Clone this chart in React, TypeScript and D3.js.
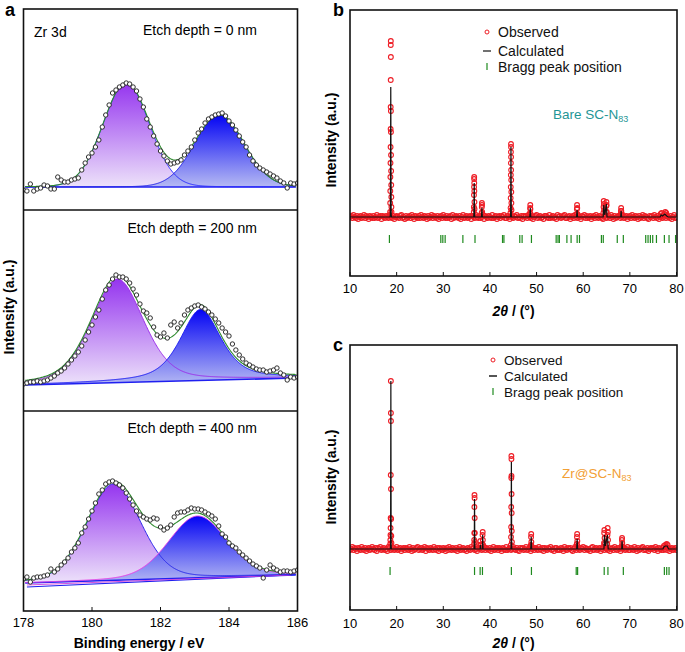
import React, { useEffect, useRef } from 'react';
import * as d3 from 'd3';

const FONT = '"Liberation Sans", Arial, Helvetica, sans-serif';

// ---------- panel a : Zr 3d XPS ----------
const xpsEnergy = [
  178.0, 178.1, 178.2, 178.3, 178.4, 178.5, 178.6, 178.7, 178.8, 178.9,
  179.0, 179.1, 179.2, 179.3, 179.4, 179.5, 179.6, 179.7, 179.8, 179.9,
  180.0, 180.1, 180.2, 180.3, 180.4, 180.5, 180.6, 180.7, 180.8, 180.9,
  181.0, 181.1, 181.2, 181.3, 181.4, 181.5, 181.6, 181.7, 181.8, 181.9,
  182.0, 182.1, 182.2, 182.3, 182.4, 182.5, 182.6, 182.7, 182.8, 182.9,
  183.0, 183.1, 183.2, 183.3, 183.4, 183.5, 183.6, 183.7, 183.8, 183.9,
  184.0, 184.1, 184.2, 184.3, 184.4, 184.5, 184.6, 184.7, 184.8, 184.9,
  185.0, 185.1, 185.2, 185.3, 185.4, 185.5, 185.6, 185.7, 185.8, 185.9,
  186.0,
];

// observed counts (a.u.) for the three etch depths
const xpsObs0 = [
  -3, -4, 3, -4, -2, -1, 2, 1, -2, -2,
  10, 7, 5, 5, 7, 8, 9, 17, 24, 30,
  34, 40, 47, 60, 72, 82, 94, 97, 100, 102,
  104, 103, 100, 96, 88, 80, 68, 60, 51, 43,
  36, 31, 26, 23, 24, 25, 27, 32, 36, 40,
  47, 54, 58, 64, 68, 70, 72, 73, 74, 71,
  66, 62, 57, 51, 45, 40, 32, 26, 22, 19,
  17, 15, 13, 11, 9, 6, 4, -1, 4, 3,
  4,
];
const xpsObs200 = [
  1, 2, 3, 3, 4, 3, 4, 5, 7, 9,
  12, 14, 17, 21, 25, 29, 33, 39, 45, 53,
  60, 68, 75, 86, 95, 100, 106, 110, 108, 108,
  106, 102, 96, 90, 81, 74, 72, 67, 58, 50,
  48, 52, 47, 60, 63, 57, 62, 70, 75, 77,
  79, 80, 78, 76, 73, 70, 66, 62, 57, 53,
  49, 41, 35, 30, 26, 22, 20, 18, 16, 15,
  15, 13, 14, 15, 17, 12, 10, 5, 8, 7,
  8,
];
const xpsObs400 = [
  6, 8, 3, 7, 8, 8, 9, 10, 16, 13,
  16, 20, 23, 27, 33, 37, 42, 52, 58, 66,
  74, 82, 91, 95, 101, 103, 104, 102, 100, 97,
  92, 86, 80, 74, 70, 68, 66, 65, 67, 66,
  58, 55, 57, 60, 68, 72, 73, 73, 75, 77,
  76, 76, 75, 73, 71, 69, 66, 59, 51, 48,
  42, 39, 37, 33, 30, 27, 24, 21, 19, 17,
  7, 15, 20, 17, 15, 13, 14, 14, 13, 14,
  15,
];

// fitted components (pseudo-Voigt): Zr 3d5/2 and Zr 3d3/2
const xpsFit0 = [
  { center: 181.0, height: 104, fwhm: 1.6, eta: 0.05 },
  { center: 183.72, height: 72, fwhm: 1.7, eta: 0.05 },
];
const xpsFit200 = [
  { center: 180.74, height: 103.6, fwhm: 1.8, eta: 0.35 },
  { center: 183.17, height: 71, fwhm: 1.4, eta: 0.6 },
];
const xpsFit400 = [
  { center: 180.63, height: 96.4, fwhm: 1.85, eta: 0.2 },
  { center: 183.08, height: 61.8, fwhm: 2.0, eta: 0.2 },
];
// backgrounds [energy, counts]
const xpsBg0 = [[178, 0], [186, 0]];
const xpsBg200 = [[178, 0], [186, 7]];
const xpsBg400 = [[178, 1.9], [186, 10.2]];
const xpsBg400b = [[178.1, -2], [185.8, 10]];

const xpsTicks = [178, 180, 182, 184, 186];

// ---------- panels b, c : XRD refinement ----------
const twoThetaTicks = [10, 20, 30, 40, 50, 60, 70, 80];

// observed background level every 0.25 deg from 10 to 80
const xrdBgNoiseB = [
  0, 1, -1, 2, 0, -1, 1, -2, 0, 1, -1, 0, 2, -1, 1, 0, -2, 1, 0, -1,
  1, -1, 0, 2, -1, 0, 1, -2, 1, 0, -1, 1, 0, -1, 2, 0, -1, 1, -2, 0,
  1, 0, -1, 1, 2, -1, 0, -2, 1, -1, 0, 1, -1, 2, 0, -2, 1, 0, -1, 1,
  -1, 2, 0, -1, 1, 0, -2, 1, -1, 0, 2, -1, 1, 0, -1, 1, -2, 0, 1, -1,
  2, 0, -1, 1, -1, 0, 1, -2, 2, -1, 0, 1, 0, -1, 1, -2, 0, 2, -1, 0,
  1, -1, 0, 1, -2, 1, 0, -1, 2, 0, -1, 1, -1, 0, 2, -2, 1, 0, -1, 1,
  0, -1, 2, -1, 0, 1, -2, 0, 1, -1, 1, 0, 2, -1, -1, 1, 0, -2, 1, 0,
  -1, 1, 0, 2, -1, 0, -1, 1, -2, 1, 0, 1, -1, 2, 0, -1, 1, -2, 0, 1,
  2, -1, 0, 1, -1, 0, -2, 1, 1, 0, -1, 2, -1, 0, 1, -1, 0, -2, 2, 0,
  1, -1, 0, 1, 2, -1, -1, 0, 1, -2, 0, 1, -1, 2, 0, -1, 1, 0, -2, 1,
  0, 2, -1, 1, -1, 0, 1, -2, 0, 1, -1, 2, 0, -1, 1, 0, -1, -2, 1, 2,
  -1, 0, 1, -1, 2, 0, -2, 1, -1, 0, 1, 1, -1, 0, 2, -1, 0, 1, -2, 0,
  1, -1, 2, 0, -1, 1, 0, -2, 1, -1, 0, 2, -1, 1, 0, -1, -2, 1, 0, 1,
  -1, 2, 0, -1, 1, -2, 0, 1, -1, 0, 2, -1, 1, 0, -1, 1, -2, 0, 2, -1,
  0,
];
const xrdBgNoiseC = [
  -1, 0, 2, -1, 1, 0, -2, 1, 0, -1, 2, 0, -1, 1, -2, 0, 1, -1, 0, 2,
  0, -1, 1, -2, 1, 0, 2, -1, 0, 1, -1, 0, -2, 2, 1, -1, 0, 1, -1, 0,
  2, -1, 0, 1, -2, 0, 1, -1, 1, 0, -1, 2, 0, -2, 1, -1, 0, 1, 2, -1,
  0, 1, -1, 0, 2, -2, 1, 0, -1, 1, 0, -1, 2, 0, -1, 1, -2, 1, 0, -1,
  1, 0, -2, 1, -1, 2, 0, -1, 1, 0, -1, 1, -2, 0, 2, -1, 0, 1, -1, 0,
  -2, 1, 0, -1, 2, 0, 1, -1, 0, -2, 1, 0, 1, -1, 0, 2, -1, 1, 0, -1,
  1, -2, 0, 2, -1, 0, 1, -1, 1, 0, -2, 1, 0, -1, 2, -1, 0, 1, -1, 0,
  2, 0, -1, 1, -1, -2, 1, 0, 1, -1, 0, 2, -1, 0, 1, -2, 0, 1, -1, 1,
  0, -1, 2, 0, -1, 1, -2, 1, 0, -1, 1, 0, 2, -1, 0, -2, 1, 1, -1, 0,
  -1, 1, 0, -2, 2, 0, -1, 1, 0, 1, -1, -2, 0, 2, -1, 1, 0, -1, 1, 0,
  2, -1, 1, 0, -1, 0, -2, 1, 2, -1, 0, 1, -1, 0, 1, -2, 0, 2, -1, 1,
  0, -1, 1, -2, 0, 1, -1, 2, 0, -1, 1, 0, -2, 1, 0, 1, -1, 0, 2, -1,
  -1, 1, 0, -1, 2, 0, -2, 1, -1, 0, 1, 2, -1, 0, -1, 1, -2, 0, 1, 0,
  1, -1, 2, 0, -2, 1, 0, -1, 1, -1, 0, 2, -1, 1, -2, 0, 1, -1, 0, 1,
  -1,
];

// observed points on the reflections [2theta, counts]
const xrdPeakObsB = [
  [18.6, 5], [18.62, 14], [18.64, 26], [18.66, 40], [18.68, 54], [18.7, 70], [18.71, 88], [18.72, 110],
  [18.73, 137], [18.74, 172], [18.75, 176], [18.76, 160], [18.77, 106], [18.78, 85], [18.8, 62],
  [18.82, 46], [18.84, 32], [18.86, 20], [18.88, 10], [18.9, 5],
  [36.54, 5], [36.56, 10], [36.58, 22], [36.6, 30], [36.62, 38], [36.63, 40], [36.64, 34], [36.66, 26], [36.68, 15], [36.7, 8],
  [38.22, 4], [38.26, 10], [38.28, 14], [38.3, 12], [38.34, 5],
  [44.4, 4], [44.42, 9], [44.44, 19], [44.46, 30], [44.48, 42], [44.49, 54], [44.5, 65], [44.51, 73],
  [44.52, 70], [44.53, 60], [44.54, 47], [44.56, 37], [44.58, 25], [44.6, 14], [44.62, 7],
  [48.58, 4], [48.62, 9], [48.65, 12], [48.68, 8], [48.72, 3],
  [58.6, 3], [58.64, 8], [58.68, 12], [58.72, 9], [58.76, 3],
  [64.32, 4], [64.36, 10], [64.4, 16], [64.44, 13], [64.48, 7],
  [64.9, 5], [64.94, 11], [64.98, 15], [65.02, 12], [65.06, 5],
  [68.06, 3], [68.1, 6], [68.13, 9], [68.17, 6], [68.2, 2],
  [76.6, 3], [76.8, 4], [77.4, 3], [77.6, 5], [77.8, 4],
];
const xrdPeakObsC = [
  [18.62, 5], [18.65, 9], [18.68, 14], [18.7, 21], [18.72, 31], [18.74, 74], [18.76, 168], [18.77, 136],
  [18.78, 128], [18.79, 60], [18.82, 30], [18.85, 13], [18.88, 6],
  [36.6, 5], [36.63, 9], [36.65, 16], [36.67, 42], [36.69, 54], [36.71, 51], [36.73, 31], [36.76, 16], [36.79, 7],
  [37.9, 4], [37.95, 8], [38.0, 4],
  [38.38, 5], [38.42, 14], [38.45, 17], [38.48, 9], [38.52, 4],
  [44.48, 4], [44.52, 12], [44.54, 22], [44.56, 42], [44.58, 71], [44.6, 93], [44.61, 90], [44.62, 73],
  [44.64, 55], [44.66, 36], [44.68, 18], [44.71, 7],
  [48.78, 4], [48.82, 12], [48.85, 15], [48.88, 7], [48.92, 3],
  [58.62, 5], [58.66, 12], [58.7, 15], [58.74, 8], [58.78, 3],
  [64.46, 6], [64.5, 16], [64.54, 19], [64.58, 11], [64.62, 5],
  [65.15, 5], [65.2, 14], [65.24, 21], [65.28, 17], [65.32, 9],
  [68.26, 3], [68.3, 9], [68.33, 11], [68.37, 6], [68.4, 2],
  [77.3, 3], [77.6, 4], [77.9, 5], [78.1, 4],
];

// calculated profiles [2theta, counts]
const xrdCalcB = [
  [10, 0], [18.6, 0], [18.66, 3], [18.74, 130], [18.82, 3], [18.9, 0],
  [36.5, 0], [36.56, 2], [36.63, 34], [36.7, 2], [36.76, 0],
  [38.15, 0], [38.2, 1], [38.28, 9], [38.36, 1], [38.4, 0],
  [44.38, 0], [44.44, 2], [44.51, 70], [44.58, 2], [44.64, 0],
  [48.55, 0], [48.65, 9], [48.75, 0],
  [58.58, 0], [58.68, 7], [58.78, 0],
  [64.28, 0], [64.4, 12], [64.62, 2], [64.97, 13], [65.1, 0],
  [68.03, 0], [68.13, 6], [68.23, 0],
  [76.5, 0], [76.7, 2], [77.0, 1], [77.5, 3], [77.9, 1], [78.2, 0], [80, 0],
];
const xrdCalcC = [
  [10, 0], [18.65, 0], [18.7, 3], [18.76, 168], [18.82, 3], [18.88, 0],
  [36.6, 0], [36.64, 2], [36.7, 50], [36.76, 2], [36.8, 0],
  [37.9, 0], [37.95, 4], [38.0, 0], [38.38, 0], [38.45, 14], [38.52, 0],
  [44.5, 0], [44.54, 2], [44.6, 87], [44.66, 2], [44.7, 0],
  [48.75, 0], [48.85, 12], [48.95, 0],
  [58.6, 0], [58.7, 10], [58.8, 0],
  [64.45, 0], [64.55, 14], [64.75, 3], [65.2, 14], [65.35, 0],
  [68.25, 0], [68.33, 8], [68.43, 0],
  [77.1, 0], [77.3, 2], [77.6, 3], [78.0, 3], [78.3, 0], [80, 0],
];

// Bragg peak positions (2theta)
const xrdBraggB = [
  18.45, 29.47, 29.9, 30.4, 34.2, 36.8, 42.7, 43.0, 46.4, 46.9, 48.9, 54.2, 54.6, 54.9, 56.5,
  57.4, 58.7, 59.2, 63.9, 64.3, 67.3, 68.6, 73.4, 73.9, 74.4, 74.9, 75.7, 77.4, 78.4, 79.8,
];
const xrdBraggC = [18.59, 36.7, 37.9, 38.4, 44.6, 48.9, 58.5, 58.8, 64.5, 65.3, 68.6, 77.4, 77.9, 78.4];

function pseudoVoigt(e, p) {
  const r = (e - p.center) / p.fwhm;
  const g = Math.exp(-4 * Math.LN2 * r * r);
  const l = 1 / (1 + 4 * r * r);
  return p.height * ((1 - p.eta) * g + p.eta * l);
}

function drawXps(svg) {
  const left = 23.5, right = 297.5;
  const x = d3.scaleLinear().domain([178, 186]).range([left, right]);
  const defs = svg.append('defs');

  const g1 = defs.append('linearGradient').attr('id', 'gradP1')
    .attr('x1', 0).attr('y1', 0).attr('x2', 0).attr('y2', 1);
  g1.append('stop').attr('offset', '0%').attr('stop-color', '#9535ef');
  g1.append('stop').attr('offset', '100%').attr('stop-color', '#ede2fa');
  const g2 = defs.append('linearGradient').attr('id', 'gradP2')
    .attr('x1', 0).attr('y1', 0).attr('x2', 0).attr('y2', 1);
  g2.append('stop').attr('offset', '0%').attr('stop-color', '#0404f4');
  g2.append('stop').attr('offset', '100%').attr('stop-color', '#b6baf3');

  const panels = [
    { title: 'Etch depth = 0 nm', top: 9, bottom: 210, zero: 187, titleY: 35, obs: xpsObs0, fit: xpsFit0, bg: xpsBg0, bg2: null, strokes: ['#2b2bff', '#2323e6'] },
    { title: 'Etch depth = 200 nm', top: 210, bottom: 411, zero: 385, titleY: 233, obs: xpsObs200, fit: xpsFit200, bg: xpsBg200, bg2: null, strokes: ['#9b30e8', '#1d1df0'] },
    { title: 'Etch depth = 400 nm', top: 411, bottom: 611, zero: 585, titleY: 433, obs: xpsObs400, fit: xpsFit400, bg: xpsBg400, bg2: xpsBg400b, strokes: ['#2a2ae8', '#e63ce6'] },
  ];
  const grid = d3.range(178.05, 185.96, 0.02);

  panels.forEach((pnl, i) => {
    const y = d3.scaleLinear().domain([0, 100]).range([pnl.zero, pnl.zero - 100]);
    const bg = d3.scaleLinear().domain(pnl.bg.map(d => d[0])).range(pnl.bg.map(d => d[1]));

    defs.append('clipPath').attr('id', 'clipA' + i)
      .append('rect').attr('x', left).attr('y', pnl.top).attr('width', right - left).attr('height', pnl.bottom - pnl.top);
    const g = svg.append('g').attr('clip-path', `url(#clipA${i})`);

    // filled components
    pnl.fit.forEach((p, k) => {
      const area = d3.area()
        .x(e => x(e))
        .y0(e => y(bg(e)))
        .y1(e => y(bg(e) + pseudoVoigt(e, p)));
      g.append('path').datum(grid).attr('d', area).attr('fill', `url(#gradP${k + 1})`);
    });

    // background lines
    const bgLine = d3.line().x(d => x(d[0])).y(d => y(d[1]));
    g.append('path').datum([[178.05, bg(178.05)], [185.95, bg(185.95)]])
      .attr('d', bgLine).attr('fill', 'none').attr('stroke', '#2020f0').attr('stroke-width', 1.6);
    if (pnl.bg2) {
      g.append('path').datum(pnl.bg2)
        .attr('d', bgLine).attr('fill', 'none').attr('stroke', '#2020f0').attr('stroke-width', 1.2);
      g.append('path').datum([[178.1, bg(178.1) - 2], [185.8, bg(185.8)]])
        .attr('d', bgLine).attr('fill', 'none').attr('stroke', '#d040d8').attr('stroke-width', 0.9);
    }

    // component outlines
    pnl.fit.forEach((p, k) => {
      const line = d3.line().x(e => x(e)).y(e => y(bg(e) + pseudoVoigt(e, p)));
      g.append('path').datum(grid).attr('d', line)
        .attr('fill', 'none').attr('stroke', pnl.strokes[k]).attr('stroke-width', 1);
    });

    // envelope
    const env = d3.line().x(e => x(e))
      .y(e => y(bg(e) + d3.sum(pnl.fit, p => pseudoVoigt(e, p))));
    g.append('path').datum(grid).attr('d', env)
      .attr('fill', 'none').attr('stroke', '#2e8b2e').attr('stroke-width', 1.1);

    // observed points
    g.selectAll('circle.obs').data(pnl.obs).enter().append('circle')
      .attr('class', 'obs')
      .attr('cx', (d, j) => x(xpsEnergy[j]))
      .attr('cy', d => y(d))
      .attr('r', 2.2)
      .attr('fill', 'white')
      .attr('stroke', '#1a1a1a')
      .attr('stroke-width', 0.9);

    svg.append('text')
      .attr('x', 257).attr('y', pnl.titleY)
      .attr('text-anchor', 'end')
      .style('font-size', '14px')
      .text(pnl.title);
  });

  svg.append('text').attr('x', 34).attr('y', 37).style('font-size', '14px').text('Zr 3d');

  // frame and separators
  svg.append('rect').attr('x', left).attr('y', 9).attr('width', right - left).attr('height', 602)
    .attr('fill', 'none').attr('stroke', '#111').attr('stroke-width', 1.6);
  [210, 411].forEach(v => {
    svg.append('line').attr('x1', left).attr('x2', right).attr('y1', v).attr('y2', v)
      .attr('stroke', '#111').attr('stroke-width', 1.6);
  });

  // x axis
  xpsTicks.forEach(t => {
    svg.append('line').attr('x1', x(t)).attr('x2', x(t)).attr('y1', 611).attr('y2', 607)
      .attr('stroke', '#111').attr('stroke-width', 1);
    svg.append('text').attr('x', x(t)).attr('y', 627).attr('text-anchor', 'middle')
      .style('font-size', '13px').text(t);
  });
  svg.append('text').attr('x', 139).attr('y', 648).attr('text-anchor', 'middle')
    .style('font-size', '14px').style('font-weight', 'bold').text('Binding energy / eV');
  svg.append('text').attr('transform', 'translate(14,307) rotate(-90)').attr('text-anchor', 'middle')
    .style('font-size', '14px').style('font-weight', 'bold').text('Intensity (a.u.)');
  svg.append('text').attr('x', 5).attr('y', 16).style('font-size', '18px').style('font-weight', 'bold').text('a');
}

function drawXrd(svg) {
  const left = 350, right = 677;
  const x = d3.scaleLinear().domain([10, 80]).range([left, 676.5]);

  const panels = [
    {
      letter: 'b', top: 10, bottom: 276, zero: 217, bgNoise: xrdBgNoiseB, peaks: xrdPeakObsB, calc: xrdCalcB,
      bragg: xrdBraggB, sample: 'Bare SC-N', sampleColor: '#1f9696', sampleX: 553, sampleY: 119,
      legX: 487, legRows: [37, 56, 72], legFont: 14, calcLegColor: '#111', calcLegW: 1.2, tickY: 293, titleY: 316, yLabelY: 140,
    },
    {
      letter: 'c', top: 345, bottom: 610, zero: 549, bgNoise: xrdBgNoiseC, peaks: xrdPeakObsC, calc: xrdCalcC,
      bragg: xrdBraggC, sample: 'Zr@SC-N', sampleColor: '#f2a035', sampleX: 562, sampleY: 478,
      legX: 493, legRows: [365, 381, 397], legFont: 13.5, calcLegColor: '#555', calcLegW: 2, tickY: 628, titleY: 648, yLabelY: 477,
    },
  ];

  panels.forEach((pnl, i) => {
    const y = d3.scaleLinear().domain([0, 100]).range([pnl.zero, pnl.zero - 100]);
    const defs = svg.append('defs');
    defs.append('clipPath').attr('id', 'clipX' + i)
      .append('rect').attr('x', left).attr('y', pnl.top).attr('width', right - left).attr('height', pnl.bottom - pnl.top);
    const g = svg.append('g').attr('clip-path', `url(#clipX${i})`);

    const red = '#ee1c24';
    g.selectAll('circle.bg').data(pnl.bgNoise).enter().append('circle')
      .attr('class', 'bg')
      .attr('cx', (d, j) => x(10 + 0.25 * j))
      .attr('cy', d => y(d))
      .attr('r', 2.4).attr('fill', 'none').attr('stroke', red).attr('stroke-width', 1.1);
    g.selectAll('circle.pk').data(pnl.peaks).enter().append('circle')
      .attr('class', 'pk')
      .attr('cx', d => x(d[0]))
      .attr('cy', d => y(d[1]))
      .attr('r', 2.4).attr('fill', 'none').attr('stroke', red).attr('stroke-width', 1.1);

    g.append('path').datum(pnl.calc)
      .attr('d', d3.line().x(d => x(d[0])).y(d => y(d[1])))
      .attr('fill', 'none').attr('stroke', '#111').attr('stroke-width', 1.2);

    g.selectAll('line.bragg').data(pnl.bragg).enter().append('line')
      .attr('class', 'bragg')
      .attr('x1', d => x(d)).attr('x2', d => x(d))
      .attr('y1', y(-18)).attr('y2', y(-26))
      .attr('stroke', '#1f8a1f').attr('stroke-width', 1.2);

    // frame
    svg.append('rect').attr('x', left).attr('y', pnl.top).attr('width', right - left).attr('height', pnl.bottom - pnl.top)
      .attr('fill', 'none').attr('stroke', '#111').attr('stroke-width', 1.6);

    twoThetaTicks.forEach(t => {
      svg.append('line').attr('x1', x(t)).attr('x2', x(t)).attr('y1', pnl.bottom).attr('y2', pnl.bottom - 4)
        .attr('stroke', '#111').attr('stroke-width', 1);
      svg.append('text').attr('x', x(t)).attr('y', pnl.tickY).attr('text-anchor', 'middle')
        .style('font-size', '13px').text(t);
    });

    const title = svg.append('text').attr('x', (left + right) / 2).attr('y', pnl.titleY)
      .attr('text-anchor', 'middle').style('font-size', '14px').style('font-weight', 'bold');
    title.append('tspan').style('font-style', 'italic').text('2θ');
    title.append('tspan').text(' / (°)');

    svg.append('text').attr('transform', `translate(336,${pnl.yLabelY}) rotate(-90)`).attr('text-anchor', 'middle')
      .style('font-size', '14px').style('font-weight', 'bold').text('Intensity (a.u.)');
    svg.append('text').attr('x', 333).attr('y', pnl.top + 6).style('font-size', '18px')
      .style('font-weight', 'bold').text(pnl.letter);

    // legend
    const lx = pnl.legX;
    const [r1, r2, r3] = pnl.legRows;
    svg.append('circle').attr('cx', lx).attr('cy', r1 - 5).attr('r', 2)
      .attr('fill', 'none').attr('stroke', red).attr('stroke-width', 1);
    svg.append('line').attr('x1', lx - 4).attr('x2', lx + 4).attr('y1', r2 - 5).attr('y2', r2 - 5)
      .attr('stroke', pnl.calcLegColor).attr('stroke-width', pnl.calcLegW);
    svg.append('line').attr('x1', lx).attr('x2', lx).attr('y1', r3 - 9).attr('y2', r3 - 2)
      .attr('stroke', '#1f8a1f').attr('stroke-width', 1.2);
    [['Observed', r1], ['Calculated', r2], ['Bragg peak position', r3]].forEach(([txt, ry]) => {
      svg.append('text').attr('x', lx + 11).attr('y', ry).style('font-size', pnl.legFont + 'px')
        .attr('fill', '#111').text(txt);
    });

    const s = svg.append('text').attr('x', pnl.sampleX).attr('y', pnl.sampleY)
      .style('font-size', '13.5px').attr('fill', pnl.sampleColor).text(pnl.sample);
    s.append('tspan').attr('dy', 3).style('font-size', '9px').text('83');
  });
}

export default function App() {
  const ref = useRef(null);
  useEffect(() => {
    const svg = d3.select(ref.current);
    svg.selectAll('*').remove();
    svg.append('rect').attr('width', 685).attr('height', 652).attr('fill', 'white');
    drawXps(svg);
    drawXrd(svg);
  }, []);
  return (
    <svg
      ref={ref}
      width={685}
      height={652}
      style={{ position: 'absolute', left: 0, top: 0, fontFamily: FONT }}
    />
  );
}
